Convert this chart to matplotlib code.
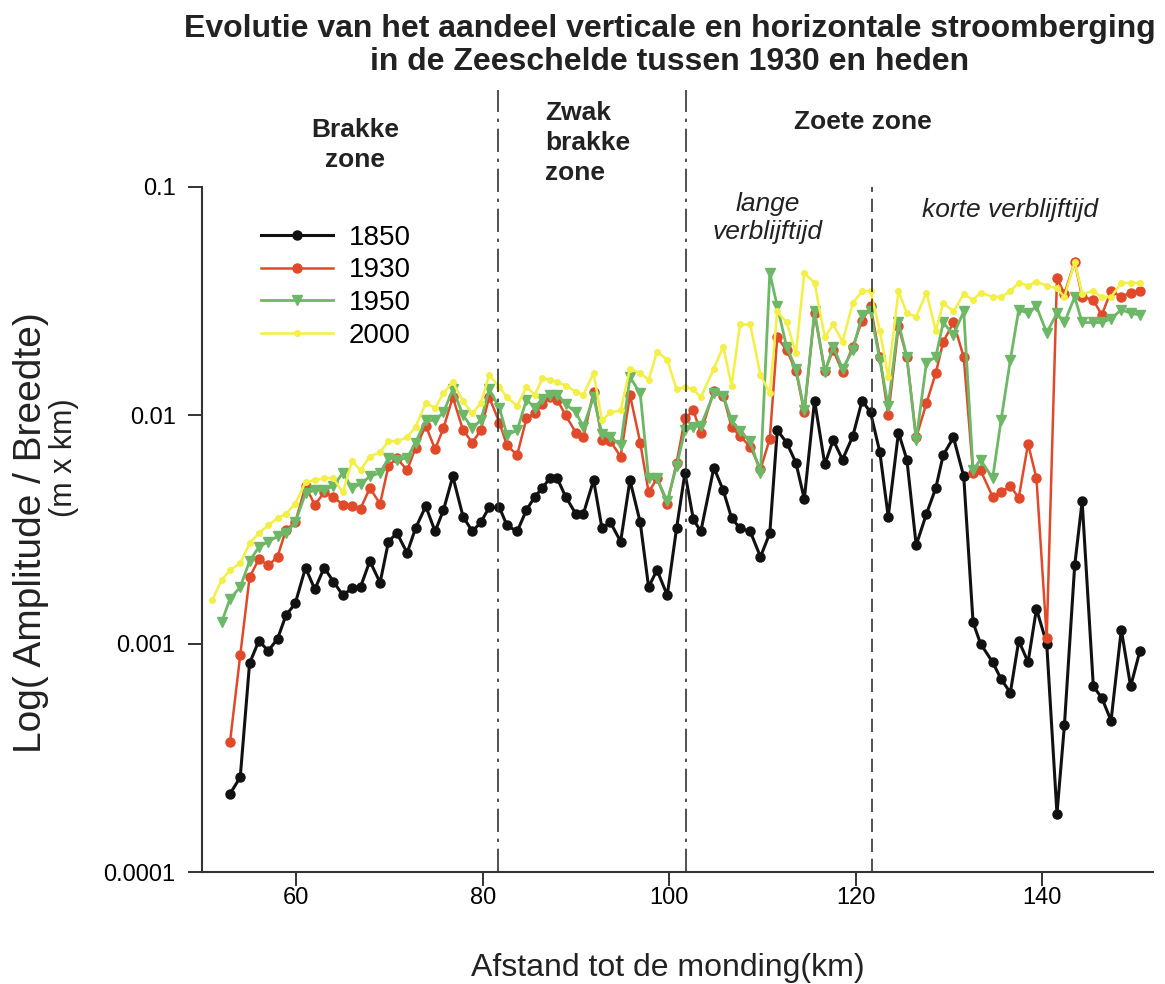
import matplotlib
matplotlib.use("Agg")
import matplotlib.pyplot as plt

plt.rcParams["font.family"] = ["Liberation Sans", "DejaVu Sans"]

# Afstand tot de monding (km) - shared positions of the measured sections
km = [51.0, 52.0, 52.9, 54.0, 55.0, 56.0, 57.0, 58.0, 58.9, 59.9,
      61.0, 62.0, 63.0, 64.0, 65.0, 66.0, 66.9, 67.9, 69.0, 69.9,
      70.8, 71.9, 72.8, 73.9, 74.9, 75.8, 76.8, 77.9, 78.9, 79.8,
      80.7, 81.8, 82.6, 83.7, 84.7, 85.6, 86.4, 87.2, 88.0, 88.9,
      90.0, 90.8, 91.9, 92.8, 93.7, 94.8, 95.8, 96.9, 97.8, 98.7,
      99.8, 100.8, 101.7, 102.6, 103.4, 104.8, 105.8, 106.7, 107.6, 108.7,
      109.8, 110.8, 111.6, 112.6, 113.6, 114.5, 115.6, 116.7, 117.6, 118.6,
      119.7, 120.7, 121.6, 122.6, 123.5, 124.6, 125.5, 126.5, 127.6, 128.6,
      129.4, 130.5, 131.6, 132.6, 133.4, 134.7, 135.6, 136.6, 137.5, 138.5,
      139.4, 140.5, 141.6, 142.4, 143.5, 144.3, 145.5, 146.4, 147.4, 148.5,
      149.5, 150.5]

v1850 = [None, None, 0.00022, 0.00026, 0.00082, 0.00103, 0.00093, 0.00105, 0.00133, 0.0015,
         0.00215, 0.00173, 0.00215, 0.00187, 0.00163, 0.00175, 0.00177, 0.0023, 0.00185, 0.0028,
         0.00305, 0.0025, 0.0032, 0.004, 0.0031, 0.00385, 0.0054, 0.0036, 0.0031, 0.0034,
         0.00395, 0.00395, 0.0033, 0.0031, 0.00385, 0.0044, 0.0048, 0.0053, 0.0053, 0.0044,
         0.0037, 0.0037, 0.0052, 0.0032, 0.0034, 0.0028, 0.0052, 0.0034, 0.00177, 0.0021,
         0.00163, 0.0032, 0.0056, 0.0035, 0.0031, 0.0059, 0.0047, 0.00355, 0.0032, 0.0031,
         0.0024, 0.00305, 0.0086, 0.0076, 0.0062, 0.0043, 0.0116, 0.0061, 0.0078, 0.0064,
         0.0081, 0.0116, 0.0103, 0.0069, 0.0036, 0.0084, 0.0064, 0.0027, 0.0037, 0.0048,
         0.0067, 0.008, 0.0054, 0.00124, 0.001, 0.00083, 0.0007, 0.00061, 0.00103, 0.00083,
         0.00142, 0.001, 0.00018, 0.00044, 0.0022, 0.0042, 0.00065, 0.00058, 0.00046, 0.00115,
         0.00065, 0.00093]

v1930 = [None, None, 0.00037, 0.00089, 0.00195, 0.00235, 0.0022, 0.0024, 0.00315, 0.0034,
         0.0049, 0.00405, 0.0046, 0.0044, 0.00405, 0.004, 0.0039, 0.0048, 0.0041, 0.006,
         0.0065, 0.00575, 0.0072, 0.009, 0.0071, 0.0088, 0.012, 0.0086, 0.0076, 0.0086,
         0.012, 0.0093, 0.0074, 0.0067, 0.0097, 0.0102, 0.0112, 0.012, 0.0117, 0.01,
         0.0084, 0.008, 0.0127, 0.0078, 0.0077, 0.0066, 0.0123, 0.0076, 0.0046, 0.0053,
         0.0041, 0.0062, 0.0097, 0.0105, 0.0084, 0.0128, 0.0122, 0.0089, 0.0081, 0.0073,
         0.0058, 0.0079, 0.022, 0.0193, 0.0157, 0.0103, 0.028, 0.0157, 0.0193, 0.0155,
         0.02, 0.026, 0.03, 0.018, 0.01, 0.0245, 0.018, 0.008, 0.0113, 0.0153,
         0.021, 0.0255, 0.018, 0.0056, 0.00575, 0.0044, 0.0046, 0.0049, 0.00435, 0.0075,
         0.0053, 0.00106, 0.04, 0.034, 0.047, 0.033, 0.032, 0.0275, 0.035, 0.033,
         0.0345, 0.035]

v1950 = [None, 0.00124, 0.00157, 0.00177, 0.0023, 0.00265, 0.0028, 0.00295, 0.00305, 0.0034,
         0.00455, 0.0047, 0.0047, 0.0049, 0.0056, 0.0048, 0.005, 0.0054, 0.0056, 0.0065,
         0.0064, 0.0065, 0.0076, 0.0095, 0.0095, 0.0103, 0.013, 0.01, 0.0088, 0.0095,
         0.013, 0.0108, 0.0082, 0.0086, 0.0117, 0.0108, 0.0118, 0.0123, 0.0123, 0.0112,
         0.0103, 0.0089, 0.012, 0.0083, 0.008, 0.0074, 0.0147, 0.0125, 0.0053, 0.0053,
         0.0042, 0.006, 0.0086, 0.0089, 0.009, 0.0125, 0.0122, 0.0095, 0.0085, 0.0077,
         0.0056, 0.042, 0.03, 0.02, 0.016, 0.0105, 0.0285, 0.0155, 0.02, 0.016,
         0.0193, 0.0275, 0.0285, 0.0175, 0.011, 0.0255, 0.018, 0.0078, 0.017, 0.018,
         0.0255, 0.0225, 0.0285, 0.00575, 0.0064, 0.0053, 0.0095, 0.0175, 0.029, 0.028,
         0.03, 0.023, 0.028, 0.0255, 0.033, 0.0255, 0.0255, 0.0255, 0.0265, 0.029,
         0.028, 0.0275]

v2000 = [0.00155, 0.0019, 0.0021, 0.00225, 0.00275, 0.00305, 0.0033, 0.00355, 0.0037, 0.0041,
         0.0051, 0.0052, 0.0053, 0.0053, 0.0046, 0.0063, 0.00575, 0.0066, 0.0069, 0.0077,
         0.0077, 0.008, 0.0089, 0.0113, 0.0108, 0.0125, 0.014, 0.0115, 0.0102, 0.0113,
         0.015, 0.0133, 0.012, 0.011, 0.0133, 0.0123, 0.0145, 0.0143, 0.014, 0.0135,
         0.0127, 0.0123, 0.0153, 0.0095, 0.0103, 0.0105, 0.016, 0.0153, 0.0143, 0.019,
         0.0175, 0.013, 0.0133, 0.013, 0.012, 0.016, 0.02, 0.0135, 0.025, 0.025,
         0.015, 0.0125, 0.0285, 0.0255, 0.0187, 0.042, 0.038, 0.022, 0.025, 0.021,
         0.031, 0.035, 0.035, 0.0235, 0.0147, 0.035, 0.028, 0.027, 0.0345, 0.0235,
         0.031, 0.0285, 0.034, 0.032, 0.0345, 0.033, 0.033, 0.035, 0.038, 0.037,
         0.0385, 0.037, 0.036, 0.033, 0.047, 0.034, 0.035, 0.033, 0.033, 0.038,
         0.038, 0.038]

years = ["1850", "1930", "1950", "2000"]
series = [v1850, v1930, v1950, v2000]
colors = ["#111111", "#e04a2a", "#6cb866", "#f3ef45"]
markers = ["o", "o", "v", "o"]
msizes = [6.5, 6.5, 7, 4]
lwidths = [2.2, 1.8, 2.0, 1.8]

# zone borders
zone_borders = [81.7, 101.8, 121.8]

fig = plt.figure(figsize=(11.65, 9.84), dpi=100)
ax = fig.add_axes([0.1734, 0.1138, 0.8163, 0.6962])

for year, vals, c, m, ms, lw in zip(years, series, colors, markers, msizes, lwidths):
    xs = [k for k, v in zip(km, vals) if v is not None]
    ys = [v for v in vals if v is not None]
    ax.plot(xs, ys, color=c, marker=m, markersize=ms, linewidth=lw,
            markeredgecolor=c, label=year)

ax.set_yscale("log")
ax.set_ylim(0.0001, 0.1)
ax.set_xlim(49.9, 151.9)
ax.set_yticks([0.0001, 0.001, 0.01, 0.1])
ax.set_yticklabels(["0.0001", "0.001", "0.01", "0.1"])
ax.minorticks_off()
ax.set_xticks([60, 80, 100, 120, 140])

for side in ["top", "right"]:
    ax.spines[side].set_visible(False)
for side in ["left", "bottom"]:
    ax.spines[side].set_linewidth(1.5)
    ax.spines[side].set_color("#333333")
ax.tick_params(axis="both", direction="out", length=10, width=1.4,
               color="#333333", labelsize=17)
ax.tick_params(axis="x", pad=1)
ax.tick_params(axis="y", pad=9)

# vertical dividers (first two run up into the header)
ax.plot([zone_borders[0]] * 2, [0, 1.142], color="#333333", lw=1.2,
        linestyle=(0, (14, 4, 2, 4)), transform=ax.get_xaxis_transform(), clip_on=False)
ax.plot([zone_borders[1]] * 2, [0, 1.142], color="#333333", lw=1.2,
        linestyle=(0, (14, 4, 2, 4)), transform=ax.get_xaxis_transform(), clip_on=False)
ax.plot([zone_borders[2]] * 2, [0, 1.0], color="#333333", lw=1.2,
        linestyle=(0, (8, 4)), transform=ax.get_xaxis_transform(), clip_on=False)

# zone labels
bold = dict(fontsize=19, fontweight="bold", color="#222222")
ax.text(0.161, 1.061, "Brakke\nzone", transform=ax.transAxes, ha="center",
        va="center", linespacing=1.3, **bold)
ax.text(0.3607, 1.064, "Zwak\nbrakke\nzone", transform=ax.transAxes, ha="left",
        va="center", linespacing=1.32, **bold)
ax.text(0.695, 1.095, "Zoete zone", transform=ax.transAxes, ha="center",
        va="center", **bold)
ital = dict(fontsize=19, fontstyle="italic", color="#222222")
ax.text(0.595, 0.955, "lange\nverblijftijd", transform=ax.transAxes, ha="center",
        va="center", linespacing=1.2, **ital)
ax.text(0.85, 0.966, "korte verblijftijd", transform=ax.transAxes, ha="center",
        va="center", **ital)

ax.legend(loc="upper left", bbox_to_anchor=(0.062, 0.945), frameon=False,
          fontsize=20, handlelength=2.6, handletextpad=0.55, labelspacing=0.24,
          borderpad=0, borderaxespad=0)

ax.set_xlabel("Afstand tot de monding(km)", fontsize=23, color="#222222")
ax.xaxis.set_label_coords(0.49, -0.118)

# y label: two separate lines, the unit line sits higher and smaller
fig.text(0.0266, 0.459, "Log( Amplitude / Breedte)", rotation=90, ha="center",
         va="center", fontsize=28, color="#222222")
fig.text(0.055, 0.535, "(m x km)", rotation=90, ha="center", va="center",
         fontsize=22, color="#222222")

fig.text(0.575, 0.954, "Evolutie van het aandeel verticale en horizontale stroomberging\n"
         "in de Zeeschelde tussen 1930 en heden", ha="center", va="center",
         fontsize=23, fontweight="bold", color="#222222", linespacing=1.15)

fig.savefig("out.png", dpi=100)
